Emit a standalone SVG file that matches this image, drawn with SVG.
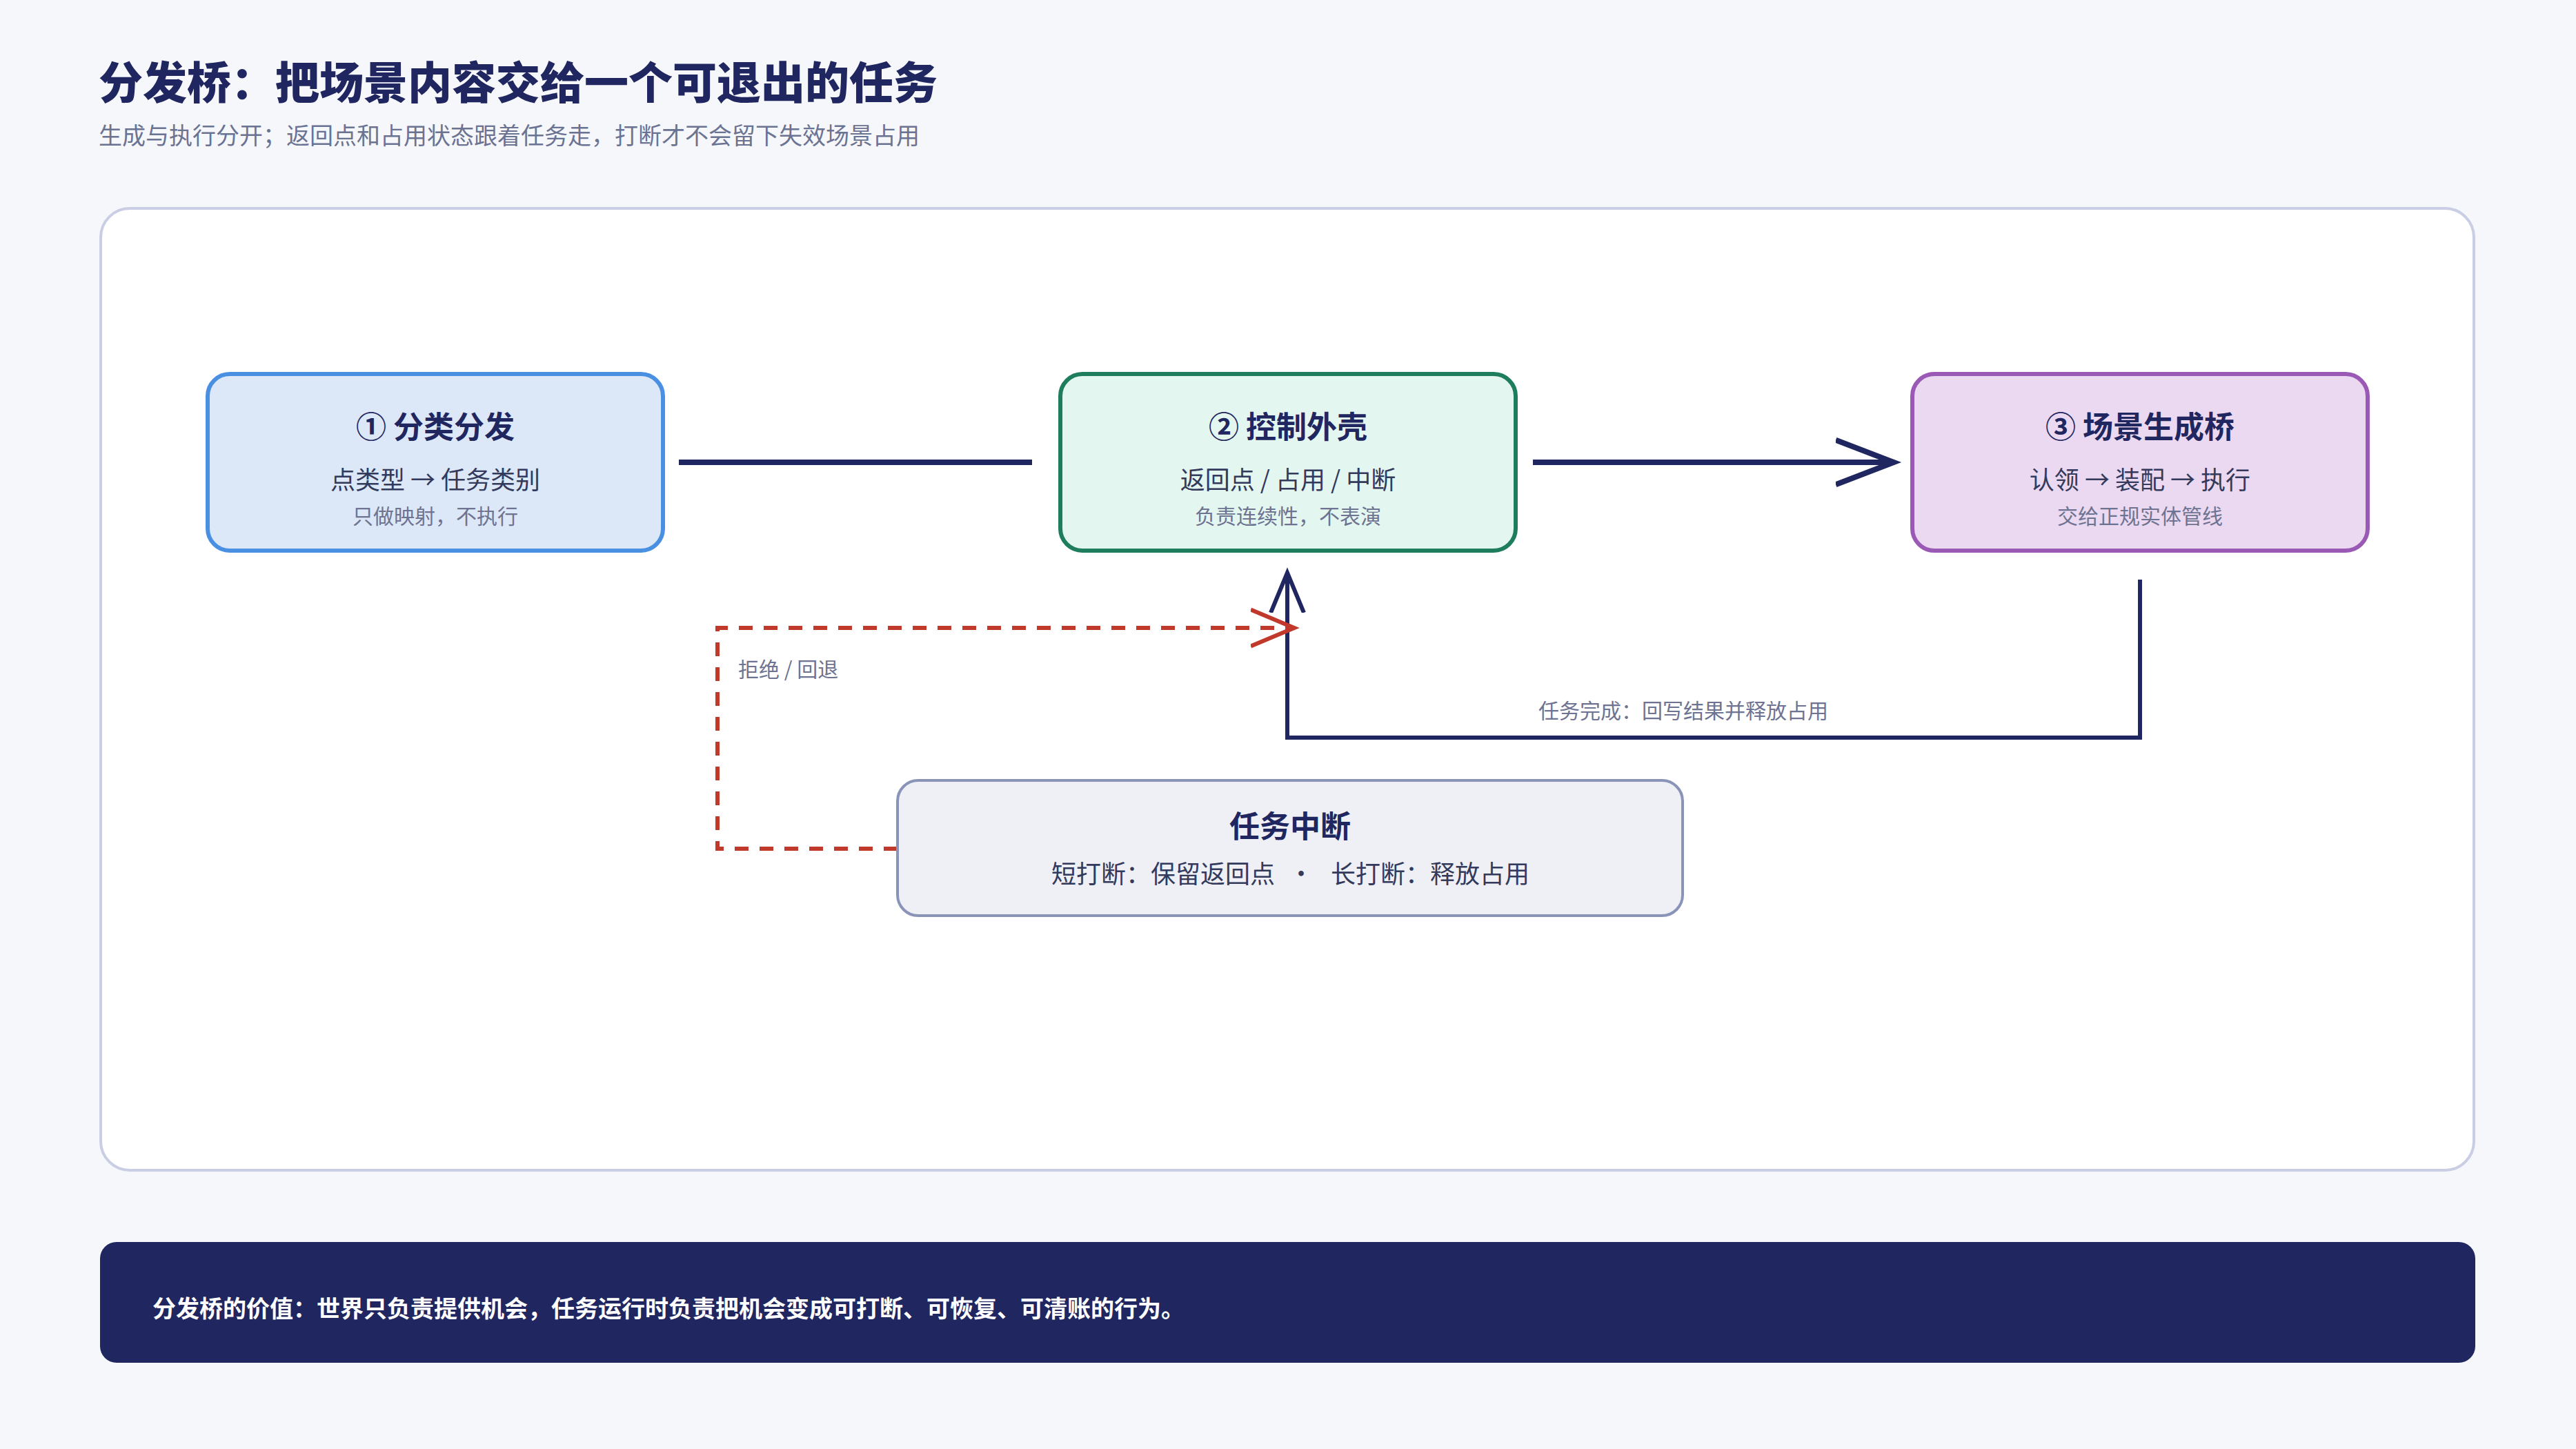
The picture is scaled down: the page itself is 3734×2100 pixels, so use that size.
<svg xmlns="http://www.w3.org/2000/svg" width="3734" height="2100" viewBox="0 0 3734 2100">
<defs>
<style>
text { font-family: "Noto Sans CJK SC", "Noto Sans", sans-serif; }
.h1 { font-size: 64px; font-weight: 900; fill: #1f2660; }
.sub { font-size: 34px; fill: #6b7393; }
.nt { font-size: 44px; font-weight: 700; fill: #1f2660; text-anchor: middle; }
.nl { font-size: 36px; fill: #333a5c; text-anchor: middle; }
.ns { font-size: 30px; fill: #6e7391; text-anchor: middle; }
.lbl { font-size: 30px; fill: #6e7391; }
.foot { font-size: 34px; font-weight: 700; fill: #ffffff; }
.node rect { stroke-width: 6; }
.conn { fill: none; stroke: #1f2660; }
</style>
<marker id="arrowL" markerUnits="userSpaceOnUse" viewBox="0 0 100 80" markerWidth="100" markerHeight="80" refX="84" refY="40" orient="auto">
  <path d="M0,7.7 L84,40 L0,72.3" fill="none" stroke="#1f2660" stroke-width="8" stroke-linejoin="miter"/>
</marker>
<marker id="arrowS" markerUnits="userSpaceOnUse" viewBox="0 0 70 80" markerWidth="70" markerHeight="80" refX="58" refY="40" orient="auto">
  <path d="M0,16 L58,40 L0,64" fill="none" stroke="#1f2660" stroke-width="6" stroke-linejoin="miter"/>
</marker>
<marker id="arrowR" markerUnits="userSpaceOnUse" viewBox="0 0 75 80" markerWidth="75" markerHeight="80" refX="63" refY="40" orient="auto">
  <path d="M0,13.5 L63,40 L0,66.5" fill="none" stroke="#c0392b" stroke-width="6" stroke-linejoin="miter"/>
</marker>
</defs>

<rect x="0" y="0" width="3734" height="2100" fill="#f6f7fb"/>

<g id="header">
  <text class="h1" x="143" y="143">分发桥：把场景内容交给一个可退出的任务</text>
  <text class="sub" x="143" y="209">生成与执行分开；返回点和占用状态跟着任务走，打断才不会留下失效场景占用</text>
</g>

<rect id="panel" x="146" y="302" width="3440" height="1394" rx="42" fill="#ffffff" stroke="#c9cee5" stroke-width="4"/>

<g id="connectors">
  <path class="conn" d="M984,670 H1496" stroke-width="8"/>
  <path class="conn" d="M2222,670 H2745" stroke-width="8" marker-end="url(#arrowL)"/>
  <path class="conn" d="M3102,840 V1069 H1866 V830" stroke-width="6" marker-end="url(#arrowS)"/>
  <path d="M1301,1230 H1040 V910 H1876" fill="none" stroke="#c0392b" stroke-width="6" stroke-dasharray="20 16" marker-end="url(#arrowR)"/>
  <text class="lbl" x="1070" y="981">拒绝 / 回退</text>
  <text class="lbl" x="2230" y="1041">任务完成：回写结果并释放占用</text>
</g>

<g id="node-dispatch" class="node">
  <rect x="301" y="542" width="660" height="256" rx="32" fill="#dce8f8" stroke="#4a90e2"/>
  <text class="nt" x="631" y="635">① 分类分发</text>
  <text class="nl" x="631" y="709">点类型 → 任务类别</text>
  <text class="ns" x="631" y="759">只做映射，不执行</text>
</g>

<g id="node-shell" class="node">
  <rect x="1537" y="542" width="660" height="256" rx="32" fill="#e3f6ef" stroke="#1e7d5c"/>
  <text class="nt" x="1867" y="635">② 控制外壳</text>
  <text class="nl" x="1867" y="709">返回点 / 占用 / 中断</text>
  <text class="ns" x="1867" y="759">负责连续性，不表演</text>
</g>

<g id="node-bridge" class="node">
  <rect x="2772" y="542" width="660" height="256" rx="32" fill="#ead9f1" stroke="#9b59b6"/>
  <text class="nt" x="3102" y="635">③ 场景生成桥</text>
  <text class="nl" x="3102" y="709">认领 → 装配 → 执行</text>
  <text class="ns" x="3102" y="759">交给正规实体管线</text>
</g>

<g id="node-interrupt">
  <rect x="1301" y="1131" width="1138" height="196" rx="30" fill="#eef0f6" stroke="#8a93b8" stroke-width="4"/>
  <text class="nt" x="1870" y="1214">任务中断</text>
  <text style="font-size:36px; fill:#333a5c;" y="1280"><tspan x="1524">短打断：保留返回点</tspan><tspan x="1886" text-anchor="middle">·</tspan><tspan x="1929">长打断：释放占用</tspan></text>
</g>

<g id="footer">
  <rect x="145" y="1800" width="3443" height="175" rx="24" fill="#1f2660"/>
  <text class="foot" x="221" y="1909">分发桥的价值：世界只负责提供机会，任务运行时负责把机会变成可打断、可恢复、可清账的行为。</text>
</g>
</svg>
